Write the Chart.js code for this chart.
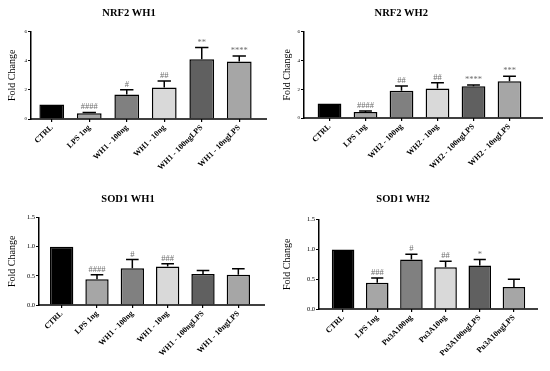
<!DOCTYPE html>
<html>
<head>
<meta charset="utf-8">
<script src="https://cdn.jsdelivr.net/npm/chart.js@4"></script>
<style>
  body { margin: 0; background: #fff; }
  .panel { position: absolute; }
</style>
</head>
<body>
<div class="panel" style="left:0;top:0"><canvas id="nrf2wh1" width="275" height="185"></canvas></div>
<div class="panel" style="left:275px;top:0"><canvas id="nrf2wh2" width="275" height="185"></canvas></div>
<div class="panel" style="left:0;top:185px"><canvas id="sod1wh1" width="275" height="186"></canvas></div>
<div class="panel" style="left:275px;top:185px"><canvas id="sod1wh2" width="275" height="186"></canvas></div>
<script>
// data (mean and upper error)
const wh1Labels = ['CTRL', 'LPS 1ng', 'WH1 - 100ng', 'WH1 - 10ng', 'WH1 - 100ngLPS', 'WH1 - 10ngLPS'];
const wh2Labels = ['CTRL', 'LPS 1ng', 'WH2 - 100ng', 'WH2 - 10ng', 'WH2 - 100ngLPS', 'WH2 - 10ngLPS'];
const pu3aLabels = ['CTRL', 'LPS 1ng', 'Pu3A100ng', 'Pu3A10ng', 'Pu3A100ngLPS', 'Pu3A10ngLPS'];

const nrf2Wh1Mean = [1.0, 0.4, 1.68, 2.16, 4.1, 3.95];
const nrf2Wh1Err = [0, 0.05, 0.32, 0.45, 0.8, 0.38];
const nrf2Wh1Sig = ['', '####', '#', '##', '**', '****'];

const nrf2Wh2Mean = [1.0, 0.42, 1.9, 2.05, 2.2, 2.55];
const nrf2Wh2Err = [0, 0.06, 0.32, 0.4, 0.1, 0.35];
const nrf2Wh2Sig = ['', '####', '##', '##', '****', '***'];

const sod1Wh1Mean = [1.0, 0.44, 0.63, 0.66, 0.53, 0.52];
const sod1Wh1Err = [0, 0.08, 0.15, 0.05, 0.06, 0.1];
const sod1Wh1Sig = ['', '####', '#', '###', '', ''];

const sod1Wh2Mean = [1.0, 0.44, 0.83, 0.70, 0.73, 0.37];
const sod1Wh2Err = [0, 0.08, 0.09, 0.10, 0.10, 0.13];
const sod1Wh2Sig = ['', '###', '#', '##', '*', ''];

const barColors = ['#000000', '#a6a6a6', '#808080', '#d9d9d9', '#606060', '#a6a6a6'];

Chart.defaults.font.family = "'Liberation Serif', serif";
Chart.defaults.color = '#000';

// error bars, significance marks and the long x axis line
const extras = {
  id: 'extras',
  afterLayout(chart) {
    const o = chart.options.plugins.extras;
    const x = chart.scales.x;
    x.left = o.barsLeft;
    x.configure();
  },
  afterDatasetsDraw(chart) {
    const o = chart.options.plugins.extras;
    const ctx = chart.ctx;
    const area = chart.chartArea;
    const yScale = chart.scales.y;
    const ds = chart.data.datasets[0];
    const bars = chart.getDatasetMeta(0).data;
    ctx.save();
    ctx.strokeStyle = '#000';
    ctx.lineWidth = 1.5;
    ctx.beginPath();
    ctx.moveTo(area.left - 0.75, area.bottom);
    ctx.lineTo(o.axisEnd, area.bottom);
    ctx.stroke();
    bars.forEach((bar, i) => {
      const yTop = yScale.getPixelForValue(ds.data[i] + ds.errors[i]);
      if (ds.errors[i] > 0) {
        const cap = bar.width * 0.27;
        ctx.beginPath();
        ctx.moveTo(bar.x, bar.y);
        ctx.lineTo(bar.x, yTop);
        ctx.moveTo(bar.x - cap, yTop);
        ctx.lineTo(bar.x + cap, yTop);
        ctx.stroke();
      }
      if (ds.sig[i]) {
        ctx.fillStyle = '#6e6e6e';
        ctx.font = "8.5px 'Liberation Serif'";
        ctx.textAlign = 'center';
        ctx.textBaseline = 'bottom';
        ctx.fillText(ds.sig[i], bar.x, yTop - 1);
      }
    });
    ctx.restore();
  }
};

function makePanel(id, title, labels, mean, err, sig, yMax, yStep, decimals, lay) {
  const w = lay.w, h = lay.h;
  return new Chart(document.getElementById(id), {
    type: 'bar',
    data: {
      labels: labels,
      datasets: [{
        data: mean,
        errors: err,
        sig: sig,
        backgroundColor: barColors,
        borderColor: '#000',
        borderWidth: 1.5,
        barPercentage: 0.66,
        categoryPercentage: 1
      }]
    },
    options: {
      responsive: false,
      animation: false,
      events: [],
      layout: { padding: { right: w - lay.barsRight, bottom: 0, left: 0, top: 0 } },
      plugins: {
        legend: { display: false },
        tooltip: { enabled: false },
        title: {
          display: true,
          text: title,
          font: { size: 10.5, weight: 'bold' },
          color: '#000',
          padding: { top: lay.titleY - 6, bottom: lay.top - lay.titleY - 6 }
        },
        extras: lay
      },
      scales: {
        x: {
          grid: { display: true, drawOnChartArea: false, offset: false, tickLength: 3, color: '#000', lineWidth: 1.2 },
          border: { display: false },
          ticks: {
            autoSkip: false, minRotation: 45, maxRotation: 45, padding: 1,
            font: { size: 8, weight: 'bold' }, color: '#000'
          },
          afterFit(s) { s.height = h - lay.bottom; }
        },
        y: {
          min: 0,
          max: yMax,
          grid: { display: true, drawOnChartArea: false, tickLength: 3, color: '#000', lineWidth: 1 },
          border: { display: true, color: '#000', width: 1.5 },
          ticks: {
            stepSize: yStep, padding: 1,
            font: { size: lay.tickSize }, color: '#000',
            callback: v => Number(v).toFixed(decimals)
          },
          title: {
            display: true, text: 'Fold Change',
            font: { size: 10 }, color: '#000',
            padding: { top: 6, bottom: 0 }
          },
          afterFit(s) { s.width = lay.axisX; }
        }
      }
    },
    plugins: [extras]
  });
}

makePanel('nrf2wh1', 'NRF2 WH1', wh1Labels, nrf2Wh1Mean, nrf2Wh1Err, nrf2Wh1Sig, 6, 2, 0,
  { w: 275, h: 185, titleY: 13, top: 31, bottom: 119, axisX: 31, barsLeft: 33, barsRight: 258, axisEnd: 267, tickSize: 5 });
makePanel('nrf2wh2', 'NRF2 WH2', wh2Labels, nrf2Wh2Mean, nrf2Wh2Err, nrf2Wh2Sig, 6, 2, 0,
  { w: 275, h: 185, titleY: 13, top: 31, bottom: 118, axisX: 29, barsLeft: 36.5, barsRight: 252.5, axisEnd: 268, tickSize: 5 });
makePanel('sod1wh1', 'SOD1 WH1', wh1Labels, sod1Wh1Mean, sod1Wh1Err, sod1Wh1Sig, 1.5, 0.5, 1,
  { w: 275, h: 186, titleY: 14, top: 32, bottom: 120, axisX: 39, barsLeft: 44, barsRight: 256, axisEnd: 265, tickSize: 6.5 });
makePanel('sod1wh2', 'SOD1 WH2', pu3aLabels, sod1Wh2Mean, sod1Wh2Err, sod1Wh2Sig, 1.5, 0.5, 1,
  { w: 275, h: 186, titleY: 14, top: 34, bottom: 124, axisX: 44, barsLeft: 51, barsRight: 256, axisEnd: 263, tickSize: 6.5 });
</script>
</body>
</html>
